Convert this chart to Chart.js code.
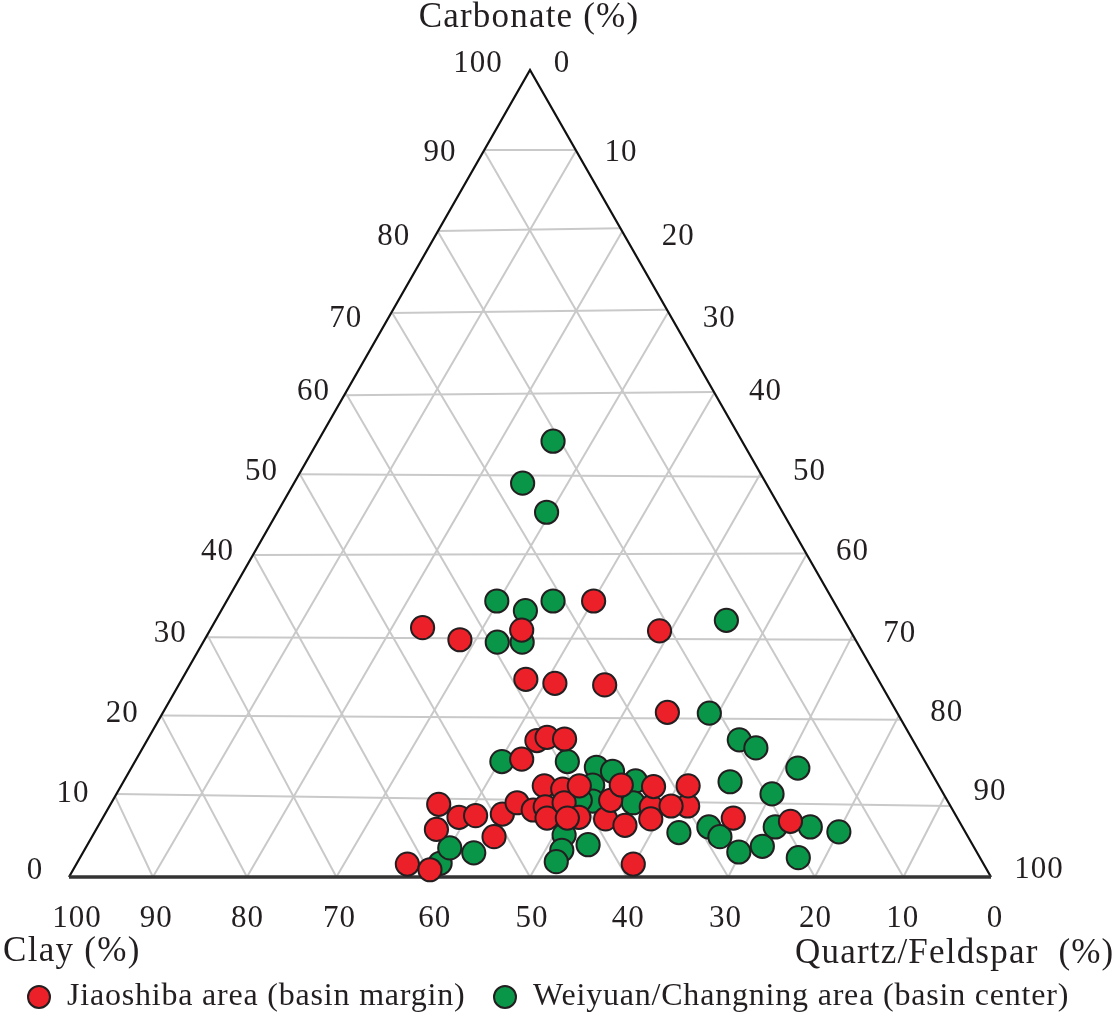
<!DOCTYPE html>
<html lang="en">
<head>
  <meta charset="UTF-8">
  <title>Ternary diagram</title>
  <script src="https://cdn.jsdelivr.net/npm/chart.js"></script>
  <style>
    html, body { margin: 0; padding: 0; background: #fff; }
    canvas { display: block; }
  </style>
</head>
<body>
  <canvas id="ternary" width="1114" height="1015"></canvas>
  <script>
    // composition values in percent (clay = 100 - carbonate - quartz)
    const jiaoshibaCarbonate = [1.6, 0.9, 9.0, 5.9, 7.4, 7.6, 5.0, 7.8, 9.2, 14.6, 16.9, 17.3, 17.1, 8.3, 11.3, 8.7, 7.3, 10.9, 9.2, 7.4, 7.3, 11.3, 7.2, 9.5, 11.4, 6.4, 8.7, 7.2, 11.2, 8.8, 8.8, 11.3, 1.6, 34.2, 30.9, 29.4, 30.6, 30.5, 24.5, 24.0, 23.8, 20.4, 7.3, 6.9];
    const jiaoshibaQuartz = [35.9, 38.7, 35.6, 36.9, 38.6, 40.3, 43.6, 43.1, 44.0, 41.8, 42.3, 43.2, 45.2, 46.2, 45.9, 47.3, 48.2, 48.1, 49.1, 51.6, 50.4, 49.7, 54.6, 54.0, 54.2, 57.1, 58.8, 59.5, 57.8, 62.7, 60.9, 61.5, 60.4, 39.8, 22.9, 27.7, 33.8, 48.8, 37.3, 40.7, 46.2, 54.7, 68.4, 74.8];
    const weiyuanCarbonate = [54.0, 48.8, 45.2, 34.2, 33.0, 34.2, 31.8, 29.1, 29.1, 20.3, 17.0, 16.0, 13.5, 11.8, 10.3, 5.5, 6.2, 5.0, 3.1, 3.8, 6.2, 6.2, 5.6, 2.4, 14.3, 14.3, 13.6, 13.1, 11.9, 11.4, 9.4, 9.5, 9.2, 4.0, 5.2, 3.3, 1.9, 3.0, 1.7, 3.6];
    const weiyuanQuartz = [25.5, 24.8, 29.2, 29.3, 33.0, 35.4, 55.4, 31.9, 34.6, 59.3, 64.2, 66.5, 72.3, 65.8, 71.1, 63.4, 66.3, 68.1, 71.1, 73.3, 73.5, 77.3, 80.7, 77.9, 39.8, 46.9, 50.4, 52.4, 55.5, 51.1, 52.1, 50.7, 56.6, 54.3, 51.1, 51.8, 51.9, 42.4, 39.4, 39.5];

    // grid as drawn in the original, which is slightly uneven
    const gridEdgeTicks = [10, 20, 30, 40, 50, 60, 70, 80, 90];
    const gridBottomTicks = [9.1, 19.3, 29.0, 39.4, 50.0, 60.5, 71.5, 80.9, 90.5];
    const gridLeftCarbonate = [10.3, 20.0, 29.7, 39.9, 49.9, 59.7, 69.9, 80.05, 90.1];
    const gridRightCarbonate = [8.8, 19.5, 29.4, 40.1, 49.6, 60.1, 70.3, 80.4, 90.1];

    const carbonateTicks = [100, 90, 80, 70, 60, 50, 40, 30, 20, 10, 0];
    const quartzTicks = [0, 10, 20, 30, 40, 50, 60, 70, 80, 90, 100];
    const clayTicks = [100, 90, 80, 70, 60, 50, 40, 30, 20, 10, 0];

    const seriesNames = ['Jiaoshiba area (basin margin)', 'Weiyuan/Changning area (basin center)'];
    const axisTitles = ['Carbonate (%)', 'Clay (%)', 'Quartz/Feldspar  (%)'];

    // label nudges in pixels, same order as the tick lists
    const carbonateNudge = [[-52, -8], [-44, 0], [-44, 3], [-46, 5], [-32, -3], [-38, -4], [-36, -4], [-37, -3], [-39, -4], [-42, -4], [-34, -8]];
    const quartzNudge = [[32, -8], [45, 0], [56, 3], [51, 5], [51, -3], [49, -4], [46, -4], [47, -3], [48, -5], [45, -6], [48, -9]];
    const clayNudge = [[8, 40], [-5, 40], [-6, 40], [-6, 40], [-3, 40], [2, 40], [6, 40], [11, 40], [9, 40], [4, 40], [4, 40]];

    const RED = '#ec2029';
    const GREEN = '#0a9648';
    const INK = '#231f20';
    const GRID = '#c9c9c9';

    // ternary to plot position: x runs along the base, y is the carbonate share
    const toPoint = (carbonate, quartz) => ({ x: quartz + carbonate / 2, y: carbonate });
    const leftEdge = c => ({ x: c / 2, y: c });
    const rightEdge = c => ({ x: 100 - c / 2, y: c });

    function lineSet(points, color, width) {
      return { data: points, showLine: true, borderColor: color, borderWidth: width, pointRadius: 0, pointHoverRadius: 0, clip: false };
    }
    function pointSet(label, carbonate, quartz, color) {
      return {
        label: label,
        data: carbonate.map((c, i) => toPoint(c, quartz[i])),
        backgroundColor: color,
        borderColor: INK,
        borderWidth: 2,
        pointRadius: 11.6,
        clip: false
      };
    }

    const gridSets = [];
    gridEdgeTicks.forEach((tick, i) => {
      const foot = { x: gridBottomTicks[i], y: 0 };
      gridSets.push(lineSet([foot, leftEdge(tick)], GRID, 2));
      gridSets.push(lineSet([foot, rightEdge(100 - tick)], GRID, 2));
      gridSets.push(lineSet([leftEdge(gridLeftCarbonate[i]), rightEdge(gridRightCarbonate[i])], GRID, 2));
    });

    function label(ctx, text, x, y, size, spacing, align) {
      ctx.font = size + 'px "Liberation Serif"';
      ctx.letterSpacing = spacing + 'px';
      ctx.textAlign = align || 'center';
      ctx.textBaseline = 'middle';
      ctx.fillText(text, x, y + 2);
    }

    const ternaryLabels = {
      id: 'ternaryLabels',
      afterDraw(chart) {
        const ctx = chart.ctx;
        const sx = chart.scales.x;
        const sy = chart.scales.y;
        const at = (p, nudge) => [sx.getPixelForValue(p.x) + nudge[0], sy.getPixelForValue(p.y) + nudge[1]];
        ctx.save();
        ctx.fillStyle = INK;
        carbonateTicks.forEach((v, i) => {
          const [x, y] = at(leftEdge(v), carbonateNudge[i]);
          label(ctx, String(v), x, y, 31, 1);
        });
        quartzTicks.forEach((v, i) => {
          const [x, y] = at(rightEdge(100 - v), quartzNudge[i]);
          label(ctx, String(v), x, y, 31, 1);
        });
        clayTicks.forEach((v, i) => {
          const [x, y] = at({ x: 100 - v, y: 0 }, clayNudge[i]);
          label(ctx, String(v), x, y, 31, 1);
        });
        label(ctx, axisTitles[0], 529, 16, 35, 1.2);
        label(ctx, axisTitles[1], 3, 950, 35, 1.3, 'left');
        label(ctx, axisTitles[2], 795, 952, 35, 1.2, 'left');

        // legend
        [[39, RED, 67], [505, GREEN, 533]].forEach(([cx, color, tx], i) => {
          ctx.beginPath();
          ctx.arc(cx, 997, 11, 0, Math.PI * 2);
          ctx.fillStyle = color;
          ctx.fill();
          ctx.lineWidth = 2;
          ctx.strokeStyle = INK;
          ctx.stroke();
          ctx.fillStyle = INK;
          label(ctx, seriesNames[i], tx, 995, 32, 0.8, 'left');
        });
        ctx.restore();
      }
    };

    new Chart(document.getElementById('ternary'), {
      type: 'scatter',
      data: {
        datasets: [
          pointSet(seriesNames[0], jiaoshibaCarbonate, jiaoshibaQuartz, RED),
          pointSet(seriesNames[1], weiyuanCarbonate, weiyuanQuartz, GREEN),
          lineSet([leftEdge(0), rightEdge(0)], '#333333', 3.5),
          lineSet([leftEdge(0), leftEdge(100), rightEdge(0)], '#111111', 2.2)
        ].concat(gridSets)
      },
      options: {
        responsive: false,
        animation: false,
        layout: { padding: { left: 69, right: 123, top: 70, bottom: 138 } },
        plugins: { legend: { display: false }, tooltip: { enabled: false } },
        scales: {
          x: { type: 'linear', min: 0, max: 100, display: false },
          y: { type: 'linear', min: 0, max: 100, display: false }
        }
      },
      plugins: [ternaryLabels]
    });
  </script>
</body>
</html>
